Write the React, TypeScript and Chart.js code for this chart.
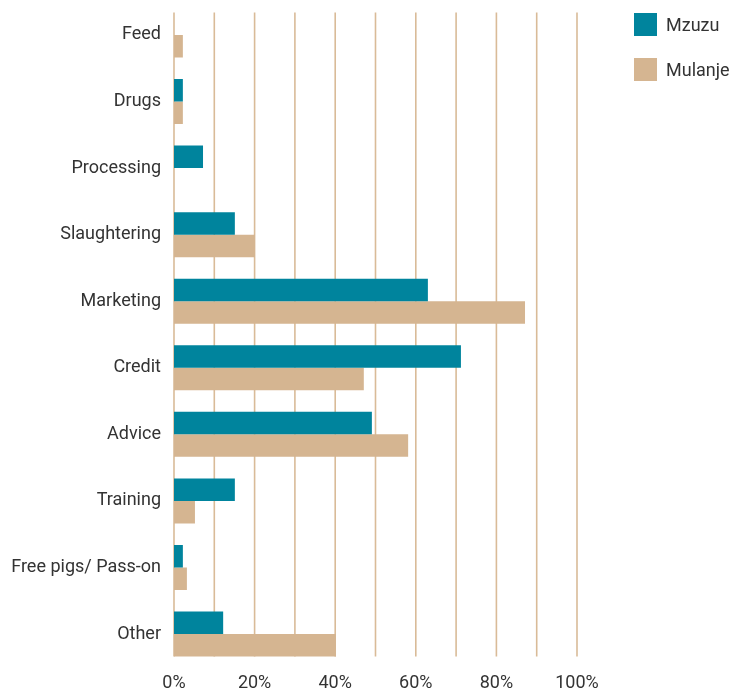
import React, { useEffect, useRef } from "react";
import { Chart, registerables } from "chart.js";

Chart.register(...registerables);

const categories = [
  "Feed",
  "Drugs",
  "Processing",
  "Slaughtering",
  "Marketing",
  "Credit",
  "Advice",
  "Training",
  "Free pigs/ Pass-on",
  "Other",
];
const mzuzu = [0, 2.2, 7.2, 15.1, 63, 71.2, 49.1, 15.1, 2.2, 12.2];
const mulanje = [2.2, 2.2, 0, 20.1, 87.1, 47.1, 58.1, 5.2, 3.2, 40.2];
const xTicks = [0, 20, 40, 60, 80, 100];
const seriesNames = ["Mzuzu", "Mulanje"];
const seriesColors = ["#00849d", "#d5b591"];

const FONT = "Roboto, 'Noto Sans', sans-serif";
const TEXT = "#333333";
const GROUP = 0.676;

const gridPlugin = {
  id: "partialGrid",
  beforeDatasetsDraw(chart: any) {
    const x = chart.scales.x;
    const y = chart.scales.y;
    const n = categories.length;
    const p0 = y.getPixelForValue(0);
    const p1 = y.getPixelForValue(1);
    const half = ((p1 - p0) * GROUP) / 2;
    const top = p0 - half;
    const bottom = y.getPixelForValue(n - 1) + half;
    const ctx = chart.ctx;
    ctx.save();
    ctx.strokeStyle = "#d9bb98";
    ctx.lineWidth = 1.6;
    for (let v = 0; v <= 100; v += 10) {
      const px = x.getPixelForValue(v);
      ctx.beginPath();
      ctx.moveTo(px, top);
      ctx.lineTo(px, bottom);
      ctx.stroke();
    }
    ctx.restore();
  },
};

export default function App() {
  const ref = useRef<HTMLCanvasElement | null>(null);

  useEffect(() => {
    if (!ref.current) return;
    const chart = new Chart(ref.current, {
      type: "bar",
      data: {
        labels: categories,
        datasets: [
          {
            label: seriesNames[0],
            data: mzuzu,
            backgroundColor: seriesColors[0],
            borderWidth: 0,
            categoryPercentage: GROUP,
            barPercentage: 1,
          },
          {
            label: seriesNames[1],
            data: mulanje,
            backgroundColor: seriesColors[1],
            borderWidth: 0,
            categoryPercentage: GROUP,
            barPercentage: 1,
          },
        ],
      },
      options: {
        indexAxis: "y",
        animation: false,
        responsive: false,
        maintainAspectRatio: false,
        layout: { padding: { left: 0, top: 1.7, right: 156, bottom: 0 } },
        plugins: {
          legend: { display: false },
          tooltip: { enabled: false },
        },
        scales: {
          x: {
            min: 0,
            max: 100,
            afterBuildTicks: (scale: any) => {
              scale.ticks = xTicks.map((v) => ({ value: v }));
            },
            afterFit: (scale: any) => {
              scale.height = 23.7;
              scale.paddingLeft = 0;
              scale.paddingRight = 0;
            },
            grid: { display: false, drawTicks: false },
            border: { display: false },
            ticks: {
              padding: 5,
              autoSkip: false,
              maxRotation: 0,
              color: TEXT,
              font: { family: FONT, size: 18 },
              callback: (v: any) => v + "%",
            },
          },
          y: {
            afterFit: (scale: any) => {
              scale.width = 174;
              scale.paddingTop = 0;
              scale.paddingBottom = 0;
            },
            grid: { display: false, drawTicks: false },
            border: { display: false },
            ticks: {
              padding: 13,
              color: TEXT,
              font: { family: FONT, size: 18 },
            },
          },
        },
      },
      plugins: [gridPlugin],
    });
    return () => chart.destroy();
  }, []);

  return (
    <div style={{ position: "fixed", left: 0, top: 0, width: 733, height: 691, background: "#fff" }}>
      <canvas ref={ref} width={733} height={691} style={{ width: 733, height: 691, display: "block" }} />
      {seriesNames.map((n, i) => (
        <div
          key={n}
          style={{
            position: "absolute",
            left: 634,
            top: 13 + i * 45,
            height: 23,
            display: "flex",
            alignItems: "center",
            fontFamily: FONT,
            fontSize: 18,
            color: TEXT,
            whiteSpace: "nowrap",
          }}
        >
          <span style={{ display: "inline-block", width: 23, height: 23, background: seriesColors[i], marginRight: 9 }} />
          <span>{n}</span>
        </div>
      ))}
    </div>
  );
}
